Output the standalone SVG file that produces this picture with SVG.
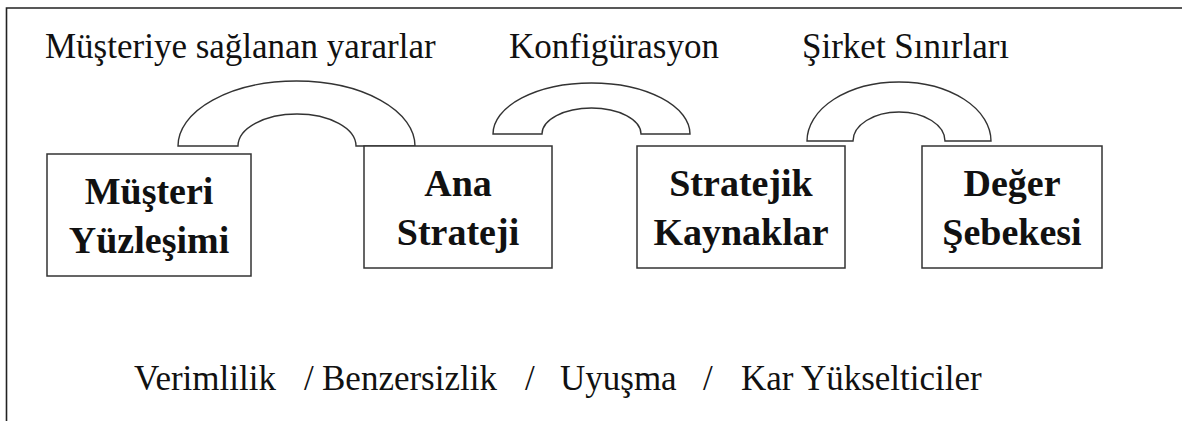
<svg xmlns="http://www.w3.org/2000/svg" width="1182" height="421" viewBox="0 0 1182 421">
<style>
.frame{fill:none;stroke:#222;stroke-width:1.6}
.box{fill:#fff;stroke:#333;stroke-width:1.5}
.arch{fill:#fff;stroke:#333;stroke-width:1.4}
.lbl{font-family:'Liberation Serif','Times New Roman',serif;font-size:35px;fill:#111}
.bt{font-family:'Liberation Serif','Times New Roman',serif;font-size:38px;font-weight:bold;fill:#111;text-anchor:middle}
</style>
<rect width="1182" height="421" fill="#fff"/>
<path class="frame" d="M6.5,421 V8 H1182"/>
<text class="lbl" x="45" y="58">Müşteriye sağlanan yararlar</text>
<text class="lbl" x="509" y="58">Konfigürasyon</text>
<text class="lbl" x="802" y="58">Şirket Sınırları</text>
<g id="connectors">
<path class="arch" d="M178,146 A118.5,65 0 0 1 415,146 H356 A59,32 0 0 0 238,146 Z"/>
<path class="arch" d="M493,134 A98.5,51 0 0 1 690,134 H641 A49.5,26 0 0 0 542,134 Z"/>
<path class="arch" d="M807,141 A92,59 0 0 1 991,141 H945 A46,29 0 0 0 853,141 Z"/>
</g>
<g id="n1"><rect class="box" x="47" y="154" width="204" height="122"/><text class="bt" x="149" y="204">Müşteri</text><text class="bt" x="149" y="253">Yüzleşimi</text></g>
<g id="n2"><rect class="box" x="364" y="146" width="188" height="122"/><text class="bt" x="458" y="196">Ana</text><text class="bt" x="458" y="245">Strateji</text></g>
<g id="n3"><rect class="box" x="637" y="146" width="208" height="122"/><text class="bt" x="741" y="196">Stratejik</text><text class="bt" x="741" y="245">Kaynaklar</text></g>
<g id="n4"><rect class="box" x="922" y="146" width="180" height="122"/><text class="bt" x="1012" y="196">Değer</text><text class="bt" x="1012" y="245">Şebekesi</text></g>
<text class="lbl" y="390"><tspan x="134">Verimlilik</tspan><tspan x="304">/</tspan><tspan x="322">Benzersizlik</tspan><tspan x="525">/</tspan><tspan x="560">Uyuşma</tspan><tspan x="703">/</tspan><tspan x="741">Kar Yükselticiler</tspan></text>
</svg>
